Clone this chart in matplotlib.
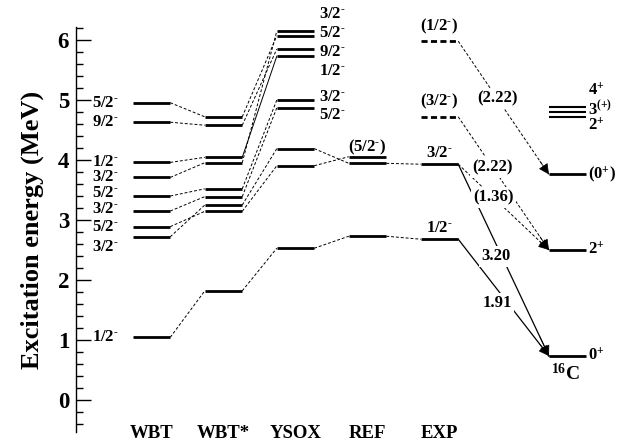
import matplotlib
matplotlib.use('Agg')
import matplotlib.pyplot as plt
from matplotlib.patches import FancyArrowPatch
from matplotlib.ticker import MultipleLocator

plt.rcParams['font.family'] = ['Liberation Serif', 'DejaVu Serif']
plt.rcParams['font.weight'] = 'bold'
plt.rcParams['mathtext.fontset'] = 'custom'
plt.rcParams['mathtext.rm'] = 'Liberation Serif:bold'
plt.rcParams['mathtext.it'] = 'Liberation Serif:bold:italic'
plt.rcParams['mathtext.bf'] = 'Liberation Serif:bold'

M = r'$^{\text{-}}$'   # small superscript minus (parity)

# ---------------- data ----------------
columns = ['WBT', 'WBT*', 'YSOX', 'REF', 'EXP']

wbt_E = [4.955, 4.63, 3.96, 3.71, 3.40, 3.15, 2.89, 2.72, 1.045]
wbt_J = ['5/2', '9/2', '1/2', '3/2', '5/2', '3/2', '5/2', '3/2', '1/2']

wbtstar_E = [4.72, 4.58, 4.045, 3.955, 3.52, 3.39, 3.25, 3.145, 1.82]

ysox_E = [6.15, 6.07, 5.85, 5.73, 5.00, 4.87, 4.19, 3.905, 2.53]
ysox_J = ['3/2', '5/2', '9/2', '1/2', '3/2', '5/2']

ref_E = [4.055, 3.945, 2.73]
ref_J = '(5/2' + M + ')'

exp_E = [5.98, 4.72, 3.93, 2.68]
exp_J = ['(1/2' + M + ')', '(3/2' + M + ')', '3/2' + M, '1/2' + M]
exp_tentative = [True, True, False, False]

c16_E = [4.89, 4.805, 4.72, 3.76, 2.50, 0.733]
c16_J = ['4$^{+}$', '3$^{(+)}$', '2$^{+}$', '(0$^{+}$)', '2$^{+}$', '0$^{+}$']

# transitions EXP -> 16C
trans_from = [0, 1, 2, 2, 3]
trans_to = [3, 4, 4, 5, 5]
trans_lab = ['(2.22)', '(2.22)', '(1.36)', '3.20', '1.91']
trans_tent = [True, True, True, False, False]

# correspondences between columns (left index, right index)
wbt_to_star = [(0, 0), (1, 1), (2, 2), (3, 3), (4, 4), (5, 5), (6, 7), (7, 6), (8, 8)]
star_to_ysox = [(0, 1), (1, 2), (2, 3), (3, 0), (4, 4), (5, 5), (6, 6), (7, 7), (8, 8)]
star_to_ysox_solid = [(2, 3)]
ysox_to_ref = [(6, 1), (7, 0), (8, 2)]
ref_to_exp = [(1, 2), (2, 3)]

# ---------------- layout ----------------
W, H = 634, 446
fig = plt.figure(figsize=(W / 100, H / 100), dpi=100)
ax = fig.add_axes([76 / W, (H - 432) / H, (W - 76) / W, (432 - 27) / H])
ax.set_xlim(-1.049, 6.701)
ax.set_ylim(-0.533, 6.217)

col_x = [0, 1, 2, 3, 4, 5.78]
HW = 0.26
LW = 2.0
FS = 12

for s in ['top', 'right', 'bottom']:
    ax.spines[s].set_visible(False)
ax.spines['left'].set_linewidth(1.0)
ax.set_xticks([])
ax.yaxis.set_major_locator(MultipleLocator(1))
ax.yaxis.set_minor_locator(MultipleLocator(0.2))
ax.tick_params(axis='y', which='major', direction='in', length=11, width=1.0,
               labelsize=16.5, pad=5)
ax.tick_params(axis='y', which='minor', direction='in', length=5, width=1.0)
ax.set_yticks(range(0, 7))

fig.text(32 / W, 1 - 230 / H, 'Excitation energy (MeV)', rotation=90,
         ha='center', va='center', fontsize=19, fontweight='bold')


def level(ci, E, ls='-', lw=LW):
    ax.plot([col_x[ci] - HW, col_x[ci] + HW], [E, E], color='black', lw=lw,
            ls=ls, solid_capstyle='butt', dash_capstyle='butt')


def connect(ci, Ea, cj, Eb, ls=(0, (3, 2))):
    ax.plot([col_x[ci] + HW, col_x[cj] - HW], [Ea, Eb], color='black',
            lw=0.7, ls=ls)


# levels
for E in wbt_E:
    level(0, E)
for E in wbtstar_E:
    level(1, E)
for E in ysox_E:
    level(2, E)
for E in ref_E:
    level(3, E)
for E, t in zip(exp_E, exp_tentative):
    level(4, E, ls=(0, (2.2, 1.2)) if t else '-')
for i, E in enumerate(c16_E):
    level(5, E, lw=1.5 if i < 3 else LW)

# connectors
for a, b in wbt_to_star:
    connect(0, wbt_E[a], 1, wbtstar_E[b])
for a, b in star_to_ysox:
    connect(1, wbtstar_E[a], 2, ysox_E[b],
            ls='-' if (a, b) in star_to_ysox_solid else (0, (3, 2)))
for a, b in ysox_to_ref:
    connect(2, ysox_E[a], 3, ref_E[b])
for a, b in ref_to_exp:
    connect(3, ref_E[a], 4, exp_E[b])

# WBT labels (left)
wbt_label_y = [4.955, 4.63, 3.96, 3.71, 3.45, 3.18, 2.89, 2.55, 1.045]
for J, y in zip(wbt_J, wbt_label_y):
    ax.text(col_x[0] - HW - 0.2, y, J + M, ha='right', va='center',
            fontsize=FS)

# YSOX labels (right)
ysox_label_y = [6.43, 6.12, 5.80, 5.48, 5.05, 4.75]
for J, y in zip(ysox_J, ysox_label_y):
    ax.text(col_x[2] + HW + 0.07, y, J + M, ha='left', va='center',
            fontsize=FS)

# REF label
ax.annotate(ref_J, xy=(col_x[3], ref_E[0]), xytext=(0, 4),
            textcoords='offset points', ha='center', va='baseline', fontsize=FS)

# EXP labels
exp_off = [8, 8, 5, 5]
for J, E, o in zip(exp_J, exp_E, exp_off):
    ax.annotate(J, xy=(col_x[4], E), xytext=(0, o), textcoords='offset points',
                ha='center', va='baseline', fontsize=FS)

# 16C labels
c16_label_y = [5.15, 4.85, 4.58, 3.76, 2.50, 0.733]
for i, (J, y) in enumerate(zip(c16_J, c16_label_y)):
    ax.text(col_x[5] + HW + 0.02, y, J, ha='left', va='center', fontsize=FS)
ax.annotate('$^{16}$C', xy=(col_x[5] - 0.03, c16_E[5]), xytext=(0, -5),
            textcoords='offset points', ha='center', va='top', fontsize=14)

# transitions with arrows
label_t = [0.43, 0.38, 0.39, 0.48, 0.55]
label_dx = [0, 0, 0, -4, -8]
for a, b, lab, tent, t, dx in zip(trans_from, trans_to, trans_lab, trans_tent,
                                  label_t, label_dx):
    x0, y0 = col_x[4] + HW, exp_E[a]
    x1, y1 = col_x[5] - HW, c16_E[b]
    ax.plot([x0, x1], [y0, y1], color='black', lw=0.7 if tent else 0.9,
            ls=(0, (3, 2)) if tent else '-', zorder=2)
    xm = x0 + 0.9 * (x1 - x0)
    ym = y0 + 0.9 * (y1 - y0)
    ax.add_patch(FancyArrowPatch((xm, ym), (x1, y1),
                                 arrowstyle='-|>,head_length=0.6,head_width=0.3',
                                 mutation_scale=11, color='black', lw=0.5,
                                 shrinkA=0, shrinkB=0, zorder=3))
    lx = x0 + t * (x1 - x0)
    ly = y0 + t * (y1 - y0)
    ax.annotate(lab, xy=(lx, ly), xytext=(dx, 0), textcoords='offset points',
                ha='center', va='center', fontsize=FS, zorder=4,
                bbox=dict(boxstyle='square,pad=0.15', fc='white', ec='none'))

# column names
for ci, name in enumerate(columns):
    ax.text(col_x[ci], -0.55, name, ha='center', va='center', fontsize=13.5,
            clip_on=False)

fig.savefig('out.png', dpi=100)
